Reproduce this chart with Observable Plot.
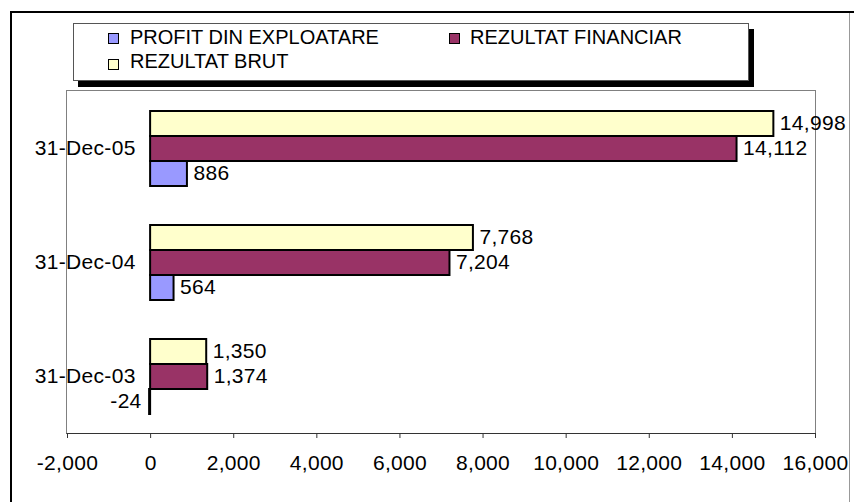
<!DOCTYPE html>
<html>
<head>
<meta charset="utf-8">
<script src="https://cdn.jsdelivr.net/npm/d3@7"></script>
<script src="https://cdn.jsdelivr.net/npm/@observablehq/plot@0.6"></script>
<style>
  html, body { margin: 0; padding: 0; background: #fff; }
  #wrap { position: relative; width: 854px; height: 502px; overflow: hidden;
          font-family: "Liberation Sans", Arial, sans-serif; }
  #outer { position: absolute; left: 10px; top: 11px; width: 837px; height: 520px;
           border-left: 2px solid #000; border-top: 2px solid #000; border-right: 1px solid #999; }
  #outerTop { position: absolute; left: 840px; top: 11px; width: 14px; height: 2px; background: #000; }
  #plotFrame { position: absolute; left: 66px; top: 90px; width: 748px; height: 342px;
               border: 1px solid #808080; border-bottom: 1px solid #333; }
  #chart { position: absolute; left: 0; top: 0; }
  #chart svg text { letter-spacing: 0.3px; }
  #legend { position: absolute; left: 73px; top: 23px; width: 674px; height: 56px;
            border: 1px solid #555; background: #fff; box-shadow: 5px 6px 0 #000; z-index: 3; }
  .sw { position: absolute; width: 9px; height: 9px; border: 1px solid #000; }
  .lt { position: absolute; font-size: 20px; line-height: 24px; white-space: nowrap; color: #000; }
</style>
</head>
<body>
<div id="wrap">
  <div id="outer"></div>
  <div id="outerTop"></div>
  <div id="plotFrame"></div>
  <div id="chart"></div>
  <div id="legend"></div>
</div>
<script>
// ---- data ----
const dates = ["31-Dec-05", "31-Dec-04", "31-Dec-03"];
const seriesNames = ["PROFIT DIN EXPLOATARE", "REZULTAT FINANCIAR", "REZULTAT BRUT"];
const profitDinExploatare = [886, 564, -24];
const rezultatFinanciar = [14112, 7204, 1374];
const rezultatBrut = [14998, 7768, 1350];
const xTicks = [-2000, 0, 2000, 4000, 6000, 8000, 10000, 12000, 14000, 16000];
const seriesColors = ["#9999FF", "#993366", "#FFFFCC"];

const seriesValues = [profitDinExploatare, rezultatFinanciar, rezultatBrut];
const rows = dates.flatMap((d, i) =>
  seriesNames.map((s, j) => ({date: d, series: s, value: seriesValues[j][i]})));

const fmt = v => v.toLocaleString("en-US");

const chart = Plot.plot({
  width: 854,
  height: 502,
  marginLeft: 67,
  marginRight: 39,
  marginTop: 91,
  marginBottom: 69,
  style: {fontFamily: "'Liberation Sans', Arial, sans-serif", fontSize: "21px", background: "transparent", overflow: "visible"},
  x: {domain: [-2000, 16000], label: null},
  y: {domain: [seriesNames[2], seriesNames[1], seriesNames[0]], paddingInner: 0, paddingOuter: 0.75, axis: null, label: null},
  fy: {domain: dates, padding: 0, axis: null, label: null},
  color: {domain: seriesNames, range: seriesColors},
  marks: [
    Plot.barX(rows, {x: "value", y: "series", fy: "date", fill: "series", stroke: "#000", strokeWidth: 2}),
    Plot.text(rows.filter(d => d.value >= 0), {x: "value", y: "series", fy: "date", text: d => fmt(d.value),
      textAnchor: "start", dx: 6, dy: -1, fill: "#000"}),
    Plot.text(rows.filter(d => d.value < 0), {x: "value", y: "series", fy: "date", text: d => fmt(d.value),
      textAnchor: "end", dx: -8, dy: -1, fill: "#000"}),
    Plot.text(dates, {x: () => 0, fy: d => d, text: d => d, textAnchor: "end", dx: -15, fill: "#000"}),
    Plot.axisX({ticks: xTicks, tickFormat: fmt, tickSize: 5, tickPadding: 17, stroke: "#333", label: null})
  ]
});
document.getElementById("chart").appendChild(chart);

// ---- legend ----
const legend = document.getElementById("legend");
const legendPos = [
  {sx: 34, sy: 9, tx: 56, ty: 1},
  {sx: 375, sy: 9, tx: 396, ty: 1},
  {sx: 34, sy: 35, tx: 56, ty: 25}
];
seriesNames.forEach((name, i) => {
  const p = legendPos[i];
  const sw = document.createElement("div");
  sw.className = "sw";
  sw.style.left = p.sx + "px";
  sw.style.top = p.sy + "px";
  sw.style.background = seriesColors[i];
  legend.appendChild(sw);
  const t = document.createElement("div");
  t.className = "lt";
  t.style.left = p.tx + "px";
  t.style.top = p.ty + "px";
  t.textContent = name;
  legend.appendChild(t);
});
</script>
</body>
</html>
